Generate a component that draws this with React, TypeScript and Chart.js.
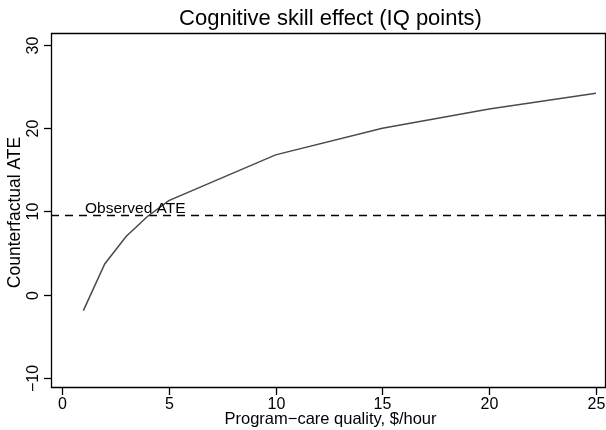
import React, { useEffect, useRef } from "react";
import { Chart, registerables } from "chart.js";

Chart.register(...registerables);

// ---- data ----
const qualityValues = [1, 2, 3, 4, 5, 10, 15, 20, 25];
const ateValues = [-1.9, 3.7, 7.0, 9.4, 11.3, 16.8, 20.0, 22.3, 24.2];
const observedAte = 9.52;
const xTicks = [0, 5, 10, 15, 20, 25];
const yTicks = [-10, 0, 10, 20, 30];
const titleText = "Cognitive skill effect (IQ points)";
const xTitleText = "Program\u2212care quality, $/hour";
const yTitleText = "Counterfactual ATE";
const refLabelText = "Observed ATE";

const FONT = '"Liberation Sans", Arial, Helvetica, sans-serif';
const fmt = (v: number) => (v < 0 ? "\u2212" + Math.abs(v) : String(v));

const decorPlugin = {
  id: "decor",
  afterDraw(chart: any) {
    const { ctx, chartArea, scales } = chart;
    const { left, right, top, bottom } = chartArea;
    const x = scales.x;
    const y = scales.y;
    ctx.save();
    ctx.strokeStyle = "#000";
    ctx.fillStyle = "#000";
    ctx.lineWidth = 1.3;
    // box
    ctx.beginPath();
    ctx.rect(left + 0.5, top + 0.5, right - left - 1, bottom - top - 1);
    ctx.stroke();
    // x ticks
    ctx.font = `16px ${FONT}`;
    ctx.textAlign = "center";
    ctx.textBaseline = "alphabetic";
    xTicks.forEach((t) => {
      const px = Math.round(x.getPixelForValue(t)) + 0.5;
      ctx.beginPath();
      ctx.moveTo(px, bottom);
      ctx.lineTo(px, bottom + 7);
      ctx.stroke();
      ctx.fillText(fmt(t), px, bottom + 21);
    });
    // y ticks
    yTicks.forEach((t) => {
      const py = Math.round(y.getPixelForValue(t)) + 0.5;
      ctx.beginPath();
      ctx.moveTo(left - 7, py);
      ctx.lineTo(left, py);
      ctx.stroke();
      ctx.save();
      ctx.translate(38, py);
      ctx.rotate(-Math.PI / 2);
      ctx.fillText(fmt(t), 0, 0);
      ctx.restore();
    });
    // axis titles
    ctx.font = `16.5px ${FONT}`;
    ctx.fillText(xTitleText, (left + right) / 2 + 2, 424);
    ctx.font = `17.5px ${FONT}`;
    ctx.save();
    ctx.translate(20, (top + bottom) / 2 + 2);
    ctx.rotate(-Math.PI / 2);
    ctx.fillText(yTitleText, 0, 0);
    ctx.restore();
    // main title
    ctx.font = `22px ${FONT}`;
    ctx.fillText(titleText, (left + right) / 2 + 2, 25);
    // reference label
    ctx.font = `15.5px ${FONT}`;
    ctx.textAlign = "left";
    ctx.fillText(refLabelText, x.getPixelForValue(1.08), y.getPixelForValue(observedAte) - 2);
    ctx.restore();
  },
};

export default function App() {
  const ref = useRef<HTMLCanvasElement>(null);
  useEffect(() => {
    if (!ref.current) return;
    const chart = new Chart(ref.current, {
      type: "line",
      data: {
        datasets: [
          {
            data: qualityValues.map((q, i) => ({ x: q, y: ateValues[i] })),
            borderColor: "#4a4a4a",
            borderWidth: 1.5,
            pointRadius: 0,
            tension: 0,
            fill: false,
          },
          {
            data: [
              { x: -0.515, y: observedAte },
              { x: 25.47, y: observedAte },
            ],
            borderColor: "#000",
            borderWidth: 1.3,
            borderDash: [8, 6],
            pointRadius: 0,
            tension: 0,
            fill: false,
          },
        ],
      },
      options: {
        responsive: false,
        animation: false,
        devicePixelRatio: 1,
        layout: { padding: { top: 33, left: 0, right: 0, bottom: 0 } },
        plugins: { legend: { display: false }, tooltip: { enabled: false }, title: { display: false } },
        scales: {
          x: {
            type: "linear",
            min: -0.515,
            max: 25.47,
            ticks: { display: false },
            grid: { display: false, drawTicks: false },
            border: { display: false },
            afterFit: (s: any) => {
              s.height = 42;
            },
          },
          y: {
            type: "linear",
            min: -11.2,
            max: 31.44,
            ticks: { display: false },
            grid: { display: false, drawTicks: false },
            border: { display: false },
            afterFit: (s: any) => {
              s.width = 51;
            },
          },
        },
      },
      plugins: [decorPlugin],
    });
    return () => chart.destroy();
  }, []);
  return (
    <div style={{ position: "fixed", left: 0, top: 0, width: 606, height: 430, background: "#fff" }}>
      <canvas ref={ref} width={606} height={430} style={{ display: "block" }} />
    </div>
  );
}
